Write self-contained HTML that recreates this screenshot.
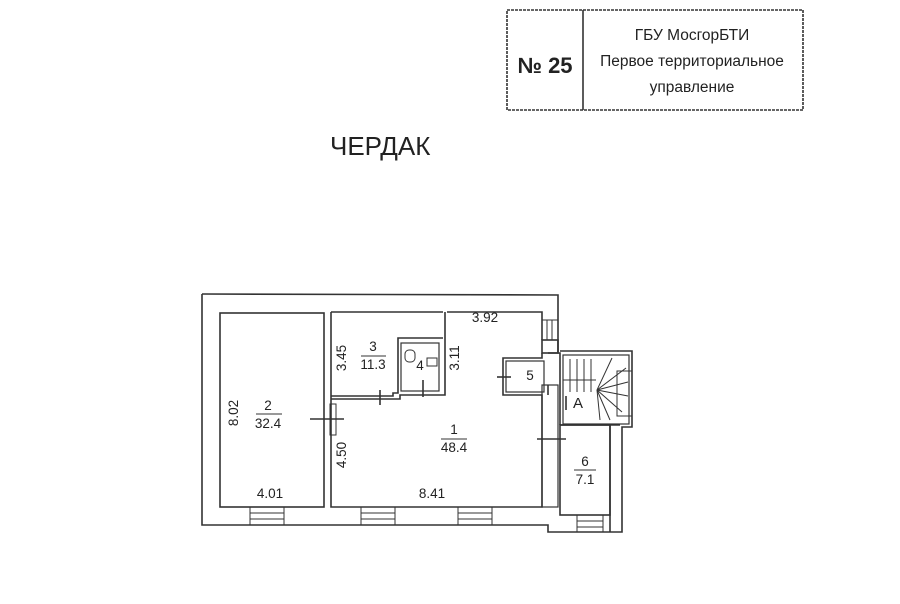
<!DOCTYPE html>
<html><head><meta charset="utf-8"><style>
html,body{margin:0;padding:0;background:#fff;width:900px;height:604px;overflow:hidden}
svg{display:block}
text{font-family:"Liberation Sans",sans-serif;fill:#222}
</style></head><body>
<svg width="900" height="604" viewBox="0 0 900 604">
<g fill="none" stroke="#333" stroke-width="1.6">
<rect x="507" y="10" width="296" height="100" stroke-dasharray="3 1"/>
<line x1="583" y1="10" x2="583" y2="110"/>
<polyline points="202,294 558,295 558,352"/>
<polyline points="202,294 202,525 548,525 548,532 622,532 622,427 632,427 632,351 560,351"/>
<rect x="220" y="313" width="104" height="194"/>
<polyline points="331,312 443,312"/>
<polyline points="447,312 542,312 542,340"/>
<rect x="542" y="340" width="16" height="13"/>
<polyline points="542,353 542,358 503,358 503,395 542,395 542,507 331,507 331,404"/>
<line x1="331" y1="312" x2="331" y2="404"/>
<polyline points="548,353 560,353 560,425"/>
<polyline points="548,395 548,385"/>
<polyline points="331,396 393,396 393,393 398,393 398,338 443,338"/>
<polyline points="331,399 400,399 400,395 445,395 445,312"/>
<rect x="401" y="343" width="38" height="48" stroke-width="1.2"/>
<rect x="506" y="361" width="38" height="31" stroke-width="1.2"/>
<rect x="542" y="385" width="16" height="122" stroke-width="1.2"/>
<rect x="563" y="355" width="66" height="69" stroke-width="1.2"/>
<line x1="560" y1="425" x2="620" y2="425"/>
<rect x="560" y="425" width="50" height="90"/>
<line x1="610" y1="425" x2="610" y2="532"/>
<line x1="310" y1="419" x2="344" y2="419"/>
<line x1="380" y1="390" x2="380" y2="405"/>
<line x1="423" y1="380" x2="423" y2="397"/>
<line x1="497" y1="377" x2="511" y2="377"/>
<line x1="537" y1="439" x2="566" y2="439"/>
<line x1="566" y1="396" x2="566" y2="410"/>
</g>
<g stroke="#333" stroke-width="1" fill="none">
<rect x="250" y="507" width="34" height="18"/><line x1="250" y1="513" x2="284" y2="513"/><line x1="250" y1="519" x2="284" y2="519"/>
<rect x="361" y="507" width="34" height="18"/><line x1="361" y1="513" x2="395" y2="513"/><line x1="361" y1="519" x2="395" y2="519"/>
<rect x="458" y="507" width="34" height="18"/><line x1="458" y1="513" x2="492" y2="513"/><line x1="458" y1="519" x2="492" y2="519"/>
<rect x="577" y="515" width="26" height="17"/><line x1="577" y1="521" x2="603" y2="521"/><line x1="577" y1="527" x2="603" y2="527"/>
<rect x="542" y="320" width="16" height="20"/><line x1="547" y1="320" x2="547" y2="340"/><line x1="552" y1="320" x2="552" y2="340"/>
<rect x="330" y="404" width="6" height="31"/>
<line x1="570" y1="359" x2="570" y2="392"/><line x1="577" y1="359" x2="577" y2="392"/><line x1="584" y1="359" x2="584" y2="392"/><line x1="591" y1="359" x2="591" y2="392"/><line x1="563" y1="380" x2="596" y2="380"/>
<line x1="597" y1="390" x2="612" y2="358"/><line x1="597" y1="390" x2="626" y2="368"/><line x1="597" y1="390" x2="628" y2="382"/><line x1="597" y1="390" x2="628" y2="396"/><line x1="597" y1="390" x2="622" y2="412"/><line x1="597" y1="390" x2="610" y2="420"/><line x1="597" y1="390" x2="600" y2="420"/>
<rect x="617" y="371" width="15" height="45"/>
<rect x="405" y="350" width="10" height="12" rx="4"/><rect x="427" y="358" width="10" height="8"/>
</g>
<text x="330" y="155" font-size="26">ЧЕРДАК</text>
<text x="545" y="73" font-size="22" font-weight="bold" text-anchor="middle">№ 25</text>
<g font-size="15.5" text-anchor="middle">
<text x="692" y="40">ГБУ МосгорБТИ</text>
<text x="692" y="66">Первое территориальное</text>
<text x="692" y="92">управление</text>
</g>
<g font-size="13.5" text-anchor="middle">
<text x="485" y="322">3.92</text>
<text x="373" y="351">3</text><text x="373" y="369">11.3</text>
<line x1="361" y1="356" x2="386" y2="356" stroke="#333"/>
<text x="420" y="370">4</text>
<text x="268" y="410">2</text><text x="268" y="428">32.4</text>
<line x1="256" y1="414" x2="282" y2="414" stroke="#333"/>
<text x="454" y="434">1</text><text x="454" y="452">48.4</text>
<line x1="441" y1="439" x2="467" y2="439" stroke="#333"/>
<text x="530" y="380">5</text>
<text x="578" y="408" font-size="15">А</text>
<text x="585" y="466">6</text><text x="585" y="484">7.1</text>
<line x1="574" y1="470" x2="596" y2="470" stroke="#333"/>
<text x="270" y="498">4.01</text>
<text x="432" y="498">8.41</text>
<text transform="translate(238,413) rotate(-90)">8.02</text>
<text transform="translate(346,358) rotate(-90)">3.45</text>
<text transform="translate(459,358) rotate(-90)">3.11</text>
<text transform="translate(346,455) rotate(-90)">4.50</text>
</g>
</svg>
</body></html>
